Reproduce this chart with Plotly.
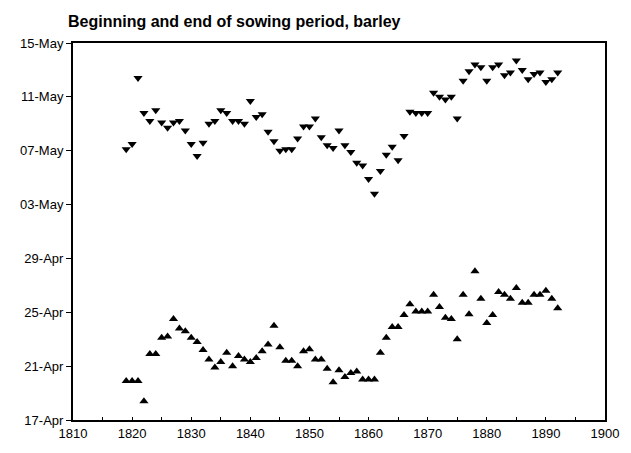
import plotly.graph_objects as go

# years of observation (both series)
years = list(range(1819, 1893))

# end of sowing period, days after 17 April
end_days = [
    20.1, 20.5, 25.4, 22.8, 22.2, 23.0, 22.1, 21.7, 22.1, 22.2,
    21.5, 20.5, 19.6, 20.6, 22.0, 22.2, 23.0, 22.8, 22.2, 22.2,
    22.0, 23.7, 22.5, 22.7, 21.4, 20.7, 20.0, 20.1, 20.1, 20.9,
    21.8, 21.8, 22.4, 21.0, 20.4, 20.2, 21.5, 20.4, 19.9, 19.1,
    18.9, 17.9, 16.8, 18.5, 19.7, 20.3, 19.3, 21.1, 22.9, 22.8,
    22.8, 22.8, 24.3, 24.0, 23.8, 24.0, 22.4, 25.2, 25.9, 26.4,
    26.2, 25.2, 26.2, 26.4, 25.6, 25.8, 26.7, 26.0, 25.3, 25.7,
    25.8, 25.1, 25.3, 25.8,
]

# beginning of sowing period, days after 17 April
begin_days = [
    2.9, 2.9, 2.9, 1.4, 4.9, 4.9, 6.1, 6.2, 7.5, 6.8,
    6.6, 6.1, 5.8, 5.2, 4.5, 3.9, 4.3, 5.0, 4.0, 4.75,
    4.5, 4.3, 4.6, 5.1, 5.6, 7.0, 5.4, 4.4, 4.4, 4.0,
    5.1, 5.25, 4.5, 4.5, 3.8, 2.8, 3.7, 3.2, 3.5, 3.6,
    3.0, 3.0, 3.0, 5.0, 6.1, 6.9, 6.9, 7.8, 8.6, 8.05,
    8.05, 8.05, 9.3, 8.4, 7.6, 7.5, 6.0, 9.3, 7.85, 11.05,
    9.0, 7.2, 7.8, 9.5, 9.3, 9.0, 9.8, 8.7, 8.7, 9.3,
    9.3, 9.6, 9.0, 8.3,
]

tick_days = [0, 4, 8, 12, 16, 20, 24, 28]
tick_labels = ["17-Apr", "21-Apr", "25-Apr", "29-Apr", "03-May", "07-May", "11-May", "15-May"]

fig = go.Figure()
fig.add_trace(go.Scatter(x=years, y=end_days, mode="markers",
                         marker=dict(symbol="triangle-down", size=8, color="black")))
fig.add_trace(go.Scatter(x=years, y=begin_days, mode="markers",
                         marker=dict(symbol="triangle-up", size=8, color="black")))

# page body has an 8px margin, so the figure is 8px smaller each way
fig.update_layout(
    width=623, height=445,
    margin=dict(l=60, r=18, t=35, b=33),
    paper_bgcolor="white", plot_bgcolor="white",
    showlegend=False,
    font=dict(family="Liberation Sans, Arial", size=12, color="black"),
    title=dict(text="<b>Beginning and end of sowing period, barley</b>",
               x=60 / 623, xanchor="left", y=1 - 13 / 445, yanchor="middle",
               font=dict(size=16, color="black")),
    xaxis=dict(range=[1810, 1900], dtick=10, tick0=1810, showgrid=False, zeroline=False,
               showline=True, linecolor="black", linewidth=2, mirror=True,
               ticks="inside", ticklen=3, tickcolor="black",
               minor=dict(dtick=5, ticks="inside", ticklen=3, tickcolor="black"),
               tickfont=dict(size=13)),
    yaxis=dict(range=[0, 28], tickvals=tick_days, ticktext=tick_labels,
               showgrid=False, zeroline=False,
               showline=True, linecolor="black", linewidth=2, mirror=True,
               ticks="outside", ticklen=5, tickcolor="black",
               tickfont=dict(size=13)),
)

fig.write_html("out.html")
